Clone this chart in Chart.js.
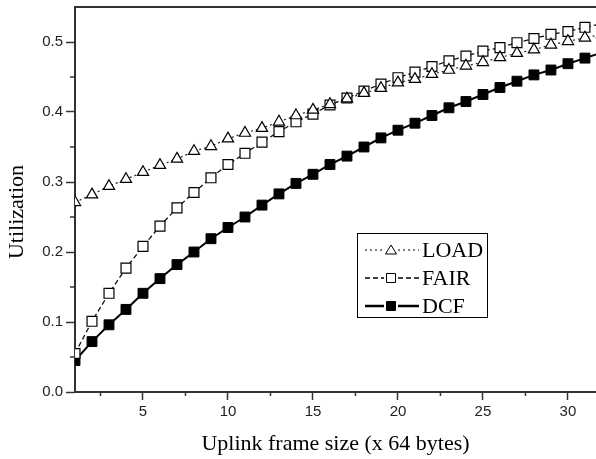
<!DOCTYPE html>
<html>
<head>
<meta charset="utf-8">
<script src="https://cdn.jsdelivr.net/npm/chart.js@4/dist/chart.umd.min.js"></script>
<style>
  html, body { margin: 0; padding: 0; background: #fff; overflow: hidden; }
  #wrap { width: 596px; height: 459px; position: relative; }
</style>
</head>
<body>
<div id="wrap"><canvas id="chart"></canvas></div>
<script>
// --- Data ---
const frameSizes = [1,2,3,4,5,6,7,8,9,10,11,12,13,14,15,16,17,18,19,20,21,22,23,24,25,26,27,28,29,30,31,32];
const loadUtil = [0.271,0.282,0.294,0.304,0.314,0.324,0.333,0.344,0.351,0.362,0.370,0.377,0.386,0.395,0.403,0.411,
  0.419,0.427,0.434,0.442,0.447,0.454,0.460,0.466,0.471,0.478,0.484,0.489,0.496,0.501,0.506,0.511];
const fairUtil = [0.055,0.101,0.141,0.177,0.208,0.237,0.263,0.285,0.306,0.325,0.341,0.357,0.372,0.386,0.397,0.410,
  0.420,0.430,0.440,0.449,0.457,0.465,0.473,0.480,0.487,0.492,0.499,0.505,0.511,0.515,0.521,0.526];
const dcfUtil = [0.045,0.072,0.096,0.118,0.141,0.162,0.182,0.200,0.219,0.235,0.250,0.267,0.283,0.298,0.311,0.325,
  0.337,0.350,0.363,0.374,0.384,0.395,0.406,0.415,0.425,0.435,0.444,0.453,0.460,0.469,0.477,0.485];

const xTicks = [5, 10, 15, 20, 25, 30];
const xMinorTicks = [2.5, 7.5, 12.5, 17.5, 22.5, 27.5];
const yTicks = [0.0, 0.1, 0.2, 0.3, 0.4, 0.5];
const yMinorTicks = [0.05, 0.15, 0.25, 0.35, 0.45];

const axisColor = "#333";
const serif = "'Liberation Serif', 'Times New Roman', serif";
const sans = "'Liberation Sans', Arial, sans-serif";

function toPoints(ys) {
  return ys.map((y, i) => ({ x: frameSizes[i], y }));
}

// --- Minor ticks, top frame line, y title, boxed legend ---
const decorPlugin = {
  id: "decor",
  afterDraw(chart) {
    const { ctx, chartArea: a, scales: { x, y } } = chart;
    ctx.save();
    ctx.strokeStyle = axisColor;
    ctx.lineWidth = 1.5;
    ctx.beginPath();
    xMinorTicks.forEach(v => {
      const px = x.getPixelForValue(v);
      ctx.moveTo(px, a.bottom);
      ctx.lineTo(px, a.bottom + 4);
    });
    yMinorTicks.forEach(v => {
      const py = y.getPixelForValue(v);
      ctx.moveTo(a.left, py);
      ctx.lineTo(a.left - 5, py);
    });
    ctx.stroke();

    // top frame
    ctx.lineWidth = 2;
    ctx.beginPath();
    ctx.moveTo(a.left, a.top);
    ctx.lineTo(a.right, a.top);
    ctx.stroke();

    // y title
    ctx.fillStyle = "#000";
    ctx.font = "22px " + serif;
    ctx.textAlign = "center";
    ctx.textBaseline = "middle";
    ctx.translate(17, 212);
    ctx.rotate(-Math.PI / 2);
    ctx.fillText("Utilization", 0, 0);
    ctx.restore();

    // legend
    ctx.save();
    const bx = a.left + 282, by = a.top + 226, bw = 130, bh = 84;
    ctx.fillStyle = "#fff";
    ctx.fillRect(bx, by, bw, bh);
    ctx.strokeStyle = "#000";
    ctx.lineWidth = 1;
    ctx.strokeRect(bx + 0.5, by + 0.5, bw, bh);
    ctx.font = "22px " + serif;
    ctx.textAlign = "left";
    ctx.textBaseline = "middle";
    chart.data.datasets.forEach((ds, i) => {
      const cy = by + 17 + i * 28;
      const x0 = bx + 8, x1 = bx + 62, cx = bx + 34;
      ctx.strokeStyle = "#000";
      ctx.lineWidth = ds.legendLineWidth;
      ctx.setLineDash(ds.borderDash || []);
      ctx.beginPath();
      ctx.moveTo(x0, cy);
      ctx.lineTo(cx - 7, cy);
      ctx.moveTo(cx + 7, cy);
      ctx.lineTo(x1, cy);
      ctx.stroke();
      ctx.setLineDash([]);
      ctx.lineWidth = 1;
      ctx.fillStyle = ds.pointBackgroundColor;
      ctx.beginPath();
      if (ds.pointStyle === "triangle") {
        ctx.moveTo(cx, cy - 5);
        ctx.lineTo(cx + 5.5, cy + 4);
        ctx.lineTo(cx - 5.5, cy + 4);
        ctx.closePath();
      } else {
        ctx.rect(cx - 4.5, cy - 4.5, 9, 9);
      }
      ctx.fill();
      ctx.stroke();
      ctx.fillStyle = "#000";
      ctx.fillText(ds.label, x1 + 3, cy + 1);
    });
    ctx.restore();
  }
};

new Chart(document.getElementById("chart"), {
  type: "line",
  data: {
    datasets: [
      {
        label: "LOAD", data: toPoints(loadUtil),
        borderColor: "#222", borderWidth: 1.2, borderDash: [2, 3], legendLineWidth: 1.2,
        pointStyle: "triangle", pointRadius: 6.5, pointBorderWidth: 1.2,
        pointBorderColor: "#000", pointBackgroundColor: "#fff"
      },
      {
        label: "FAIR", data: toPoints(fairUtil),
        borderColor: "#111", borderWidth: 1.3, borderDash: [5, 3], legendLineWidth: 1.3,
        pointStyle: "rect", pointRadius: 7, pointBorderWidth: 1.2,
        pointBorderColor: "#000", pointBackgroundColor: "#fff"
      },
      {
        label: "DCF", data: toPoints(dcfUtil),
        borderColor: "#000", borderWidth: 2, legendLineWidth: 2.5,
        pointStyle: "rect", pointRadius: 7, pointBorderWidth: 1,
        pointBorderColor: "#000", pointBackgroundColor: "#000"
      }
    ]
  },
  options: {
    responsive: true,
    maintainAspectRatio: false,
    animation: false,
    layout: { autoPadding: false, padding: { top: 7, left: 0, right: 0, bottom: 0 } },
    plugins: { legend: { display: false }, tooltip: { enabled: false } },
    elements: { line: { tension: 0 } },
    scales: {
      x: {
        type: "linear", min: 1, max: 31.65,
        afterFit: s => { s.height = 67; s.paddingLeft = 0; s.paddingRight = 0; },
        afterBuildTicks: s => { s.ticks = xTicks.map(v => ({ value: v })); },
        grid: { drawOnChartArea: false, tickLength: 8, tickWidth: 1.5, tickColor: axisColor },
        border: { color: axisColor, width: 2 },
        ticks: { font: { family: sans, size: 15 }, color: "#222", padding: 3, maxRotation: 0,
          callback: v => String(v) },
        title: { display: true, text: "Uplink frame size (x 64 bytes)", color: "#000",
          font: { family: serif, size: 22 }, padding: { top: 0, bottom: 2 } }
      },
      y: {
        type: "linear", min: 0, max: 0.55,
        afterFit: s => { s.width = 75; s.paddingTop = 0; s.paddingBottom = 0; },
        afterBuildTicks: s => { s.ticks = yTicks.map(v => ({ value: v })); },
        grid: { drawOnChartArea: false, tickLength: 9, tickWidth: 1.5, tickColor: axisColor },
        border: { color: axisColor, width: 2 },
        ticks: { font: { family: sans, size: 15 }, color: "#222", padding: 3,
          callback: v => Number(v).toFixed(1) }
      }
    }
  },
  plugins: [decorPlugin]
});
</script>
</body>
</html>
